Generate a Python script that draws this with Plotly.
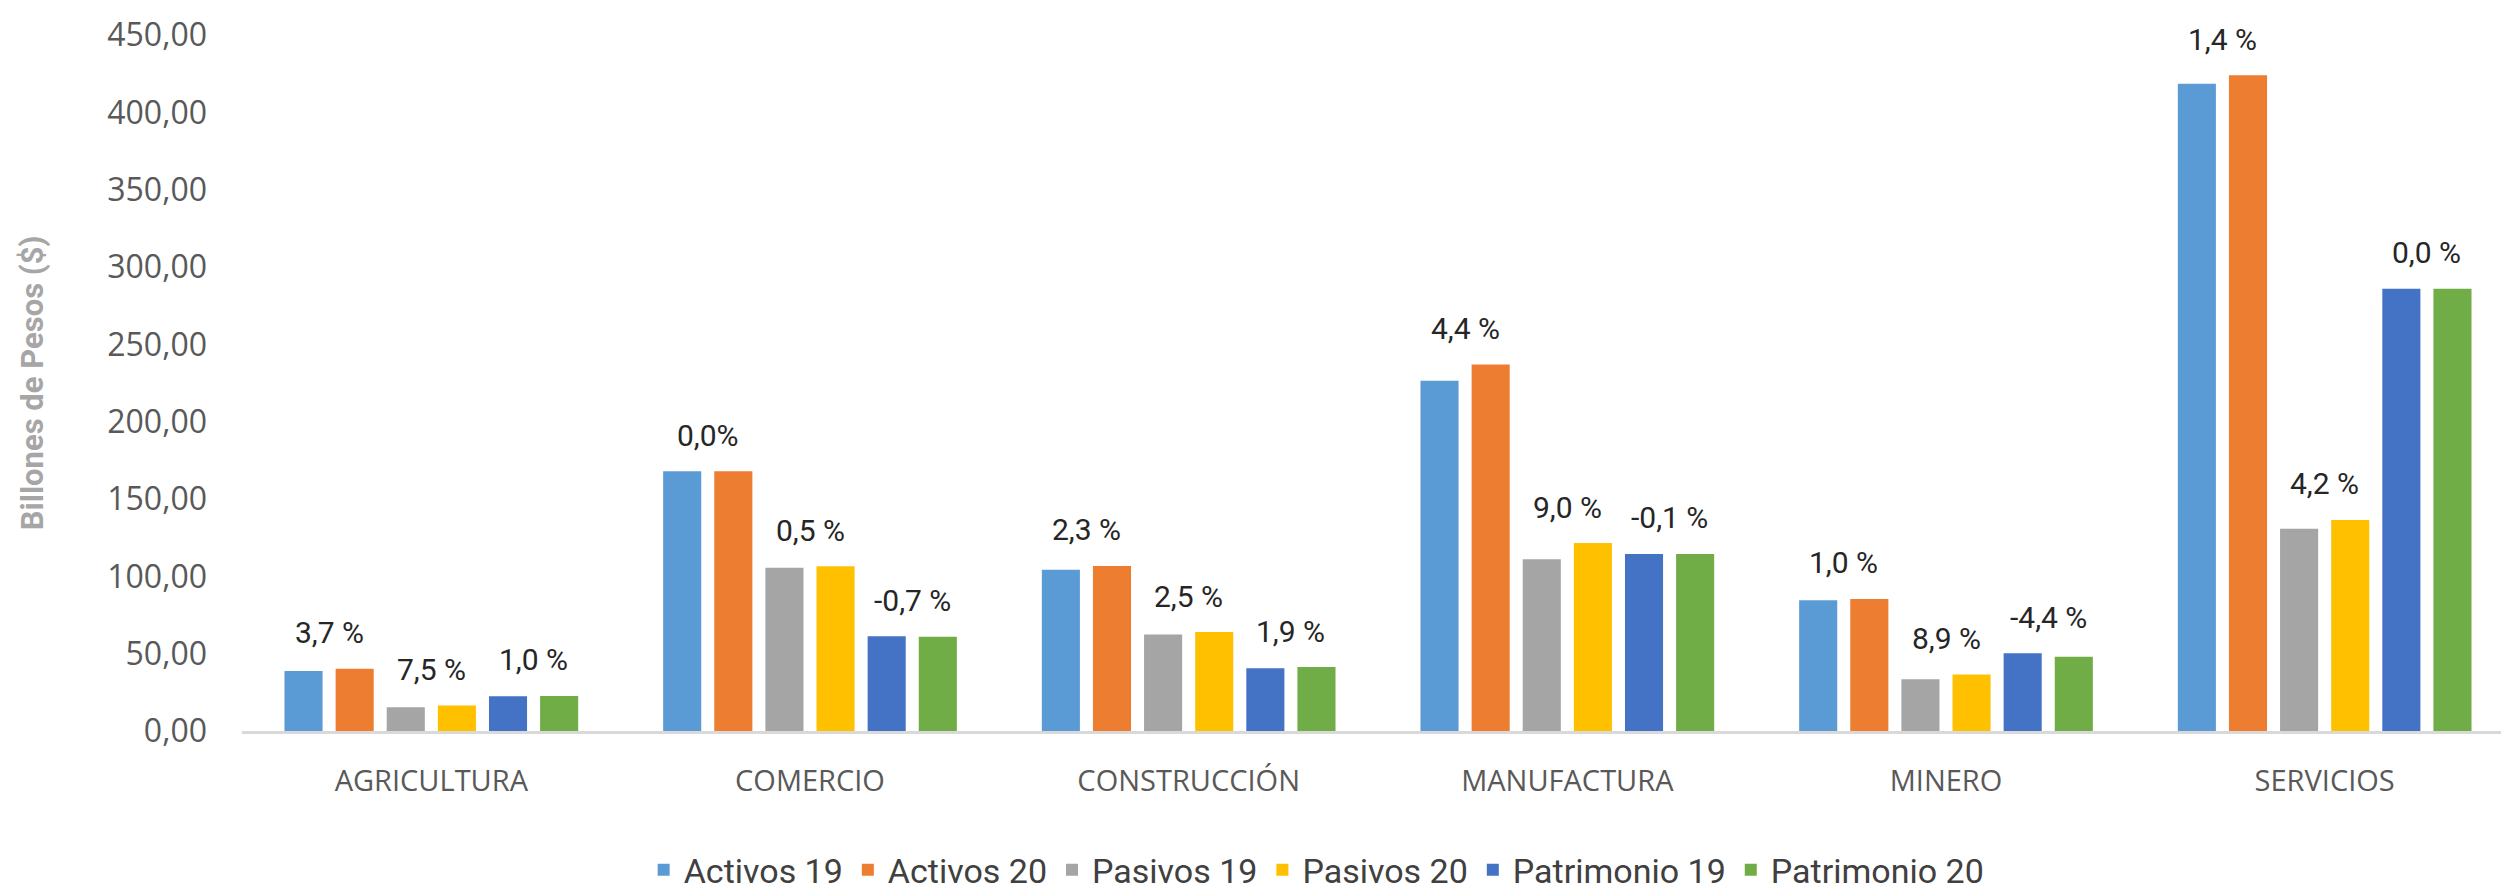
import plotly.graph_objects as go

categories = ["AGRICULTURA", "COMERCIO", "CONSTRUCCIÓN", "MANUFACTURA", "MINERO", "SERVICIOS"]

activos_19 = [38.8, 168.0, 104.2, 226.5, 84.5, 418.5]
activos_20 = [40.3, 168.0, 106.7, 237.0, 85.4, 424.0]
pasivos_19 = [15.3, 105.5, 62.4, 111.0, 33.5, 130.8]
pasivos_20 = [16.5, 106.5, 64.0, 121.5, 36.5, 136.5]
patrimonio_19 = [22.5, 61.3, 40.5, 114.5, 50.2, 286.0]
patrimonio_20 = [22.7, 61.0, 41.3, 114.4, 48.0, 286.0]

pct_activos = ["3,7 %", "0,0%", "2,3 %", "4,4 %", "1,0 %", "1,4 %"]
pct_pasivos = ["7,5 %", "0,5 %", "2,5 %", "9,0 %", "8,9 %", "4,2 %"]
pct_patrimonio = ["1,0 %", "-0,7 %", "1,9 %", "-0,1 %", "-4,4 %", "0,0 %"]

series = [
    ("Activos 19", activos_19, "#5B9BD5"),
    ("Activos 20", activos_20, "#ED7D31"),
    ("Pasivos 19", pasivos_19, "#A5A5A5"),
    ("Pasivos 20", pasivos_20, "#FFC000"),
    ("Patrimonio 19", patrimonio_19, "#4472C4"),
    ("Patrimonio 20", patrimonio_20, "#70AD47"),
]

NARROW = "Roboto, Liberation Sans, sans-serif"
WIDE = "Open Sans, DejaVu Sans, sans-serif"

fig = go.Figure()
for name, vals, color in series:
    fig.add_trace(go.Bar(name=name, x=categories, y=vals, marker_color=color,
                         marker_line_width=0))

bargap = 0.19
slot = (1 - bargap) / 6
pairs = [(activos_19, activos_20, pct_activos, -2 * slot),
         (pasivos_19, pasivos_20, pct_pasivos, 0.0),
         (patrimonio_19, patrimonio_20, pct_patrimonio, 2 * slot)]
for a, b, labels, off in pairs:
    for i in range(len(categories)):
        fig.add_annotation(x=i + off, y=max(a[i], b[i]), text=labels[i],
                           showarrow=False, yanchor="middle", yshift=36,
                           font=dict(family=NARROW, size=30, color="#262626"))

fig.update_layout(
    width=2509, height=894,
    paper_bgcolor="white", plot_bgcolor="white",
    separators=",.",
    barmode="group", bargap=bargap, bargroupgap=0.255,
    margin=dict(l=234, r=3, t=27, b=160),
    legend=dict(orientation="h", x=0.473, xanchor="center", y=-0.2, yanchor="middle",
                font=dict(family=NARROW, size=34, color="#404040"),
                itemwidth=30, tracegroupgap=0),
    xaxis=dict(showline=True, linecolor="#D9D9D9", linewidth=3, ticks="",
               ticklabelstandoff=22,
               tickfont=dict(family=WIDE, size=29, color="#595959"),
               showgrid=False),
    yaxis=dict(range=[0, 450], dtick=50, tickformat=".2f", showgrid=False, showline=False,
               zeroline=False, ticklabelstandoff=34,
               tickfont=dict(family=WIDE, size=32, color="#595959"),
               title=dict(text="<b>Billones de Pesos ($)</b>", standoff=54,
                          font=dict(family=NARROW, size=31, color="#A6A6A6"))),
)

fig.write_html("out.html")
